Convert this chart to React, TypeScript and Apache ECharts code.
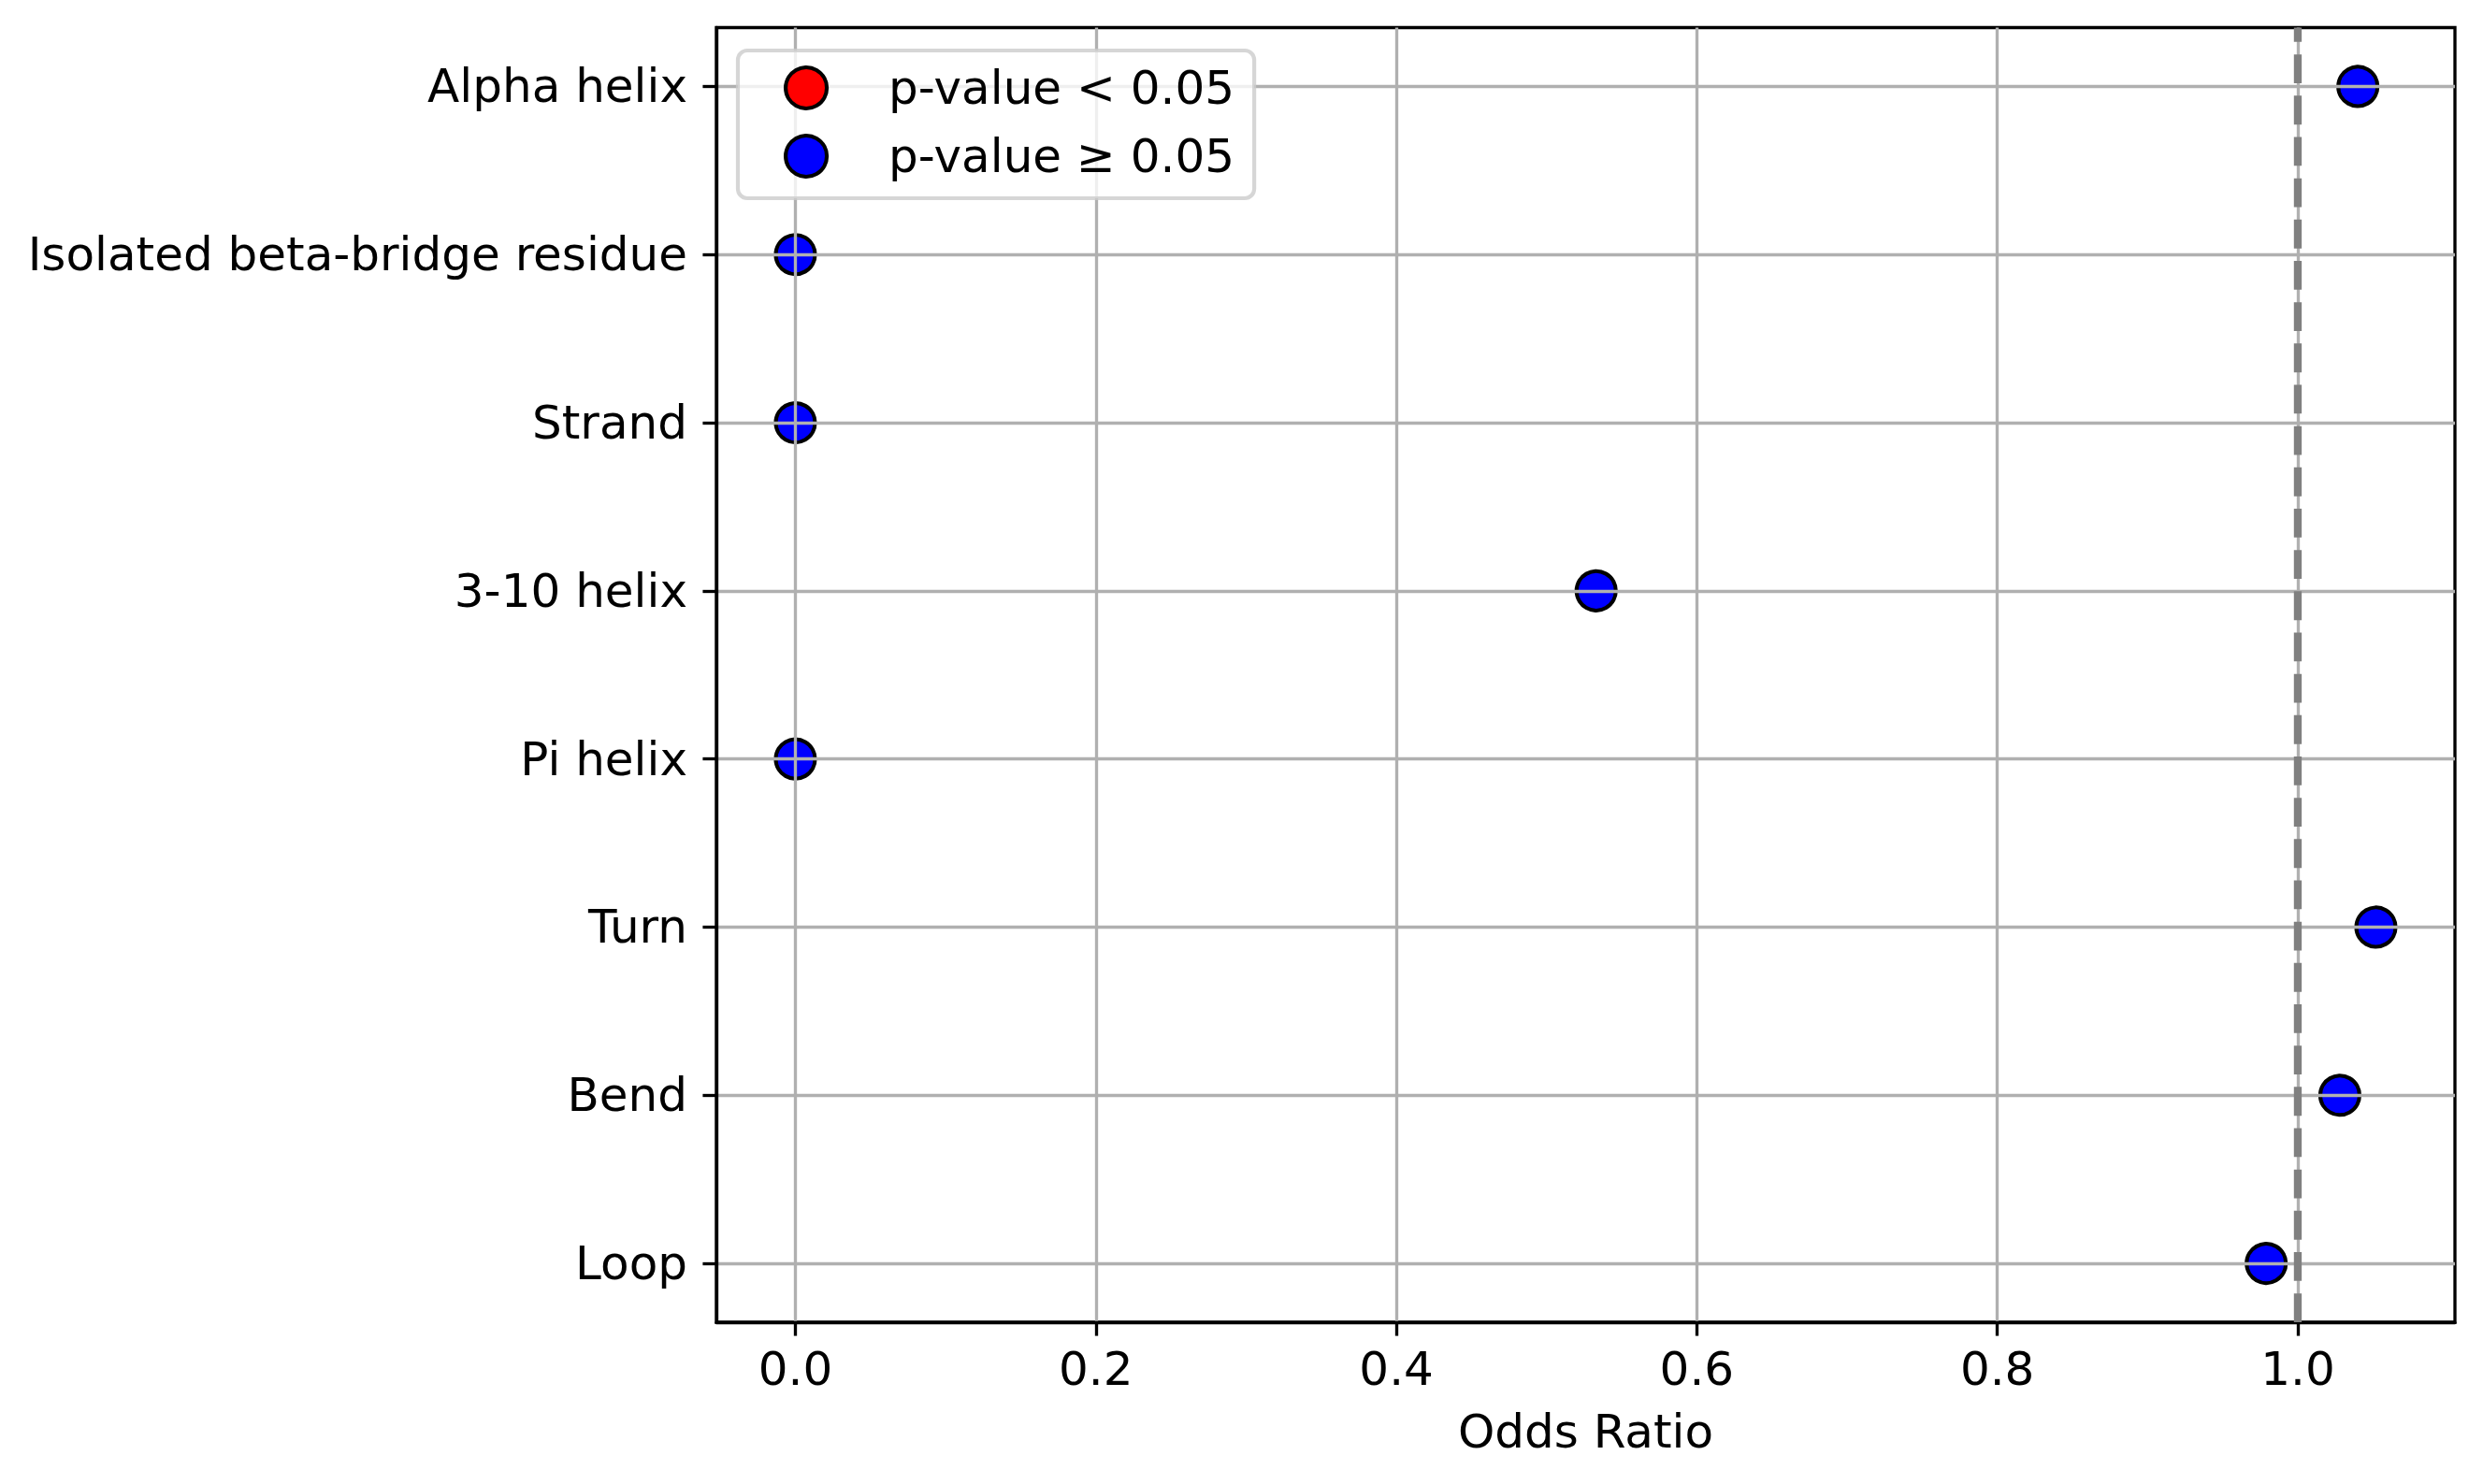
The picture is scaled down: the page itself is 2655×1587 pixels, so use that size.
import React, { useEffect, useRef } from "react";
import * as echarts from "echarts";

const categories = [
  "Alpha helix",
  "Isolated beta-bridge residue",
  "Strand",
  "3-10 helix",
  "Pi helix",
  "Turn",
  "Bend",
  "Loop",
];
const oddsRatios = [1.04, 0, 0, 0.533, 0, 1.052, 1.028, 0.979];
const pValueSignificant = [false, false, false, false, false, false, false, false];
const xTicks = [0, 0.2, 0.4, 0.6, 0.8, 1.0];
const referenceOdds = 1.0;
const seriesNames = ["p-value < 0.05", "p-value \u2265 0.05"];

const FONT = "DejaVu Sans";
const FS = 50;
const PT = 300 / 72;

export default function App() {
  const ref = useRef<HTMLDivElement>(null);
  useEffect(() => {
    if (!ref.current) return;
    const chart = echarts.init(ref.current, null, { renderer: "svg" });
    const dMin = Math.min(...oddsRatios);
    const dMax = Math.max(...oddsRatios);
    const pad = 0.05 * (dMax - dMin);
    const yMin = -0.35;
    const yMax = categories.length - 1 + 0.35;
    const yIdx = categories.map((_, i) => i);
    const sigData = oddsRatios
      .map((v, i) => [v, i, pValueSignificant[i]])
      .filter((d) => d[2])
      .map((d) => [d[0], d[1]]);
    const nsData = oddsRatios
      .map((v, i) => [v, i, pValueSignificant[i]])
      .filter((d) => !d[2])
      .map((d) => [d[0], d[1]]);
    const markerStyle = (color: string) => ({
      color,
      borderColor: "#000000",
      borderWidth: 1 * PT,
      opacity: 1,
    });
    chart.setOption({
      animation: false,
      backgroundColor: "#ffffff",
      textStyle: { fontFamily: FONT },
      grid: {
        left: 766,
        top: 29.5,
        width: 1859,
        height: 1384.5,
        show: true,
        borderColor: "#000000",
        borderWidth: 0.8 * PT,
        backgroundColor: "transparent",
      },
      legend: {
        show: true,
        orient: "vertical",
        left: 789,
        top: 54,
        data: seriesNames,
        icon: "circle",
        itemWidth: 44,
        itemHeight: 44,
        itemGap: 23,
        padding: [15, 21, 20, 49],
        backgroundColor: "rgba(255,255,255,0.8)",
        borderColor: "rgba(204,204,204,0.8)",
        borderWidth: 1 * PT,
        borderRadius: 10,
        itemStyle: { borderColor: "#000000", borderWidth: 1 * PT },
        textStyle: {
          fontFamily: FONT,
          fontSize: FS,
          color: "#000000",
          padding: [0, 0, 0, 61],
        },
        z: 10,
      },
      xAxis: {
        type: "value",
        min: dMin - pad,
        max: dMax + pad,
        z: 3,
        name: "Odds Ratio",
        nameLocation: "middle",
        nameGap: 92,
        nameTextStyle: { fontFamily: FONT, fontSize: FS, color: "#000000" },
        axisLine: { show: true, onZero: false, lineStyle: { color: "#000000", width: 0.8 * PT } },
        axisTick: {
          show: true,
          inside: false,
          length: 3.5 * PT,
          customValues: xTicks,
          lineStyle: { color: "#000000", width: 0.8 * PT },
        },
        axisLabel: {
          show: true,
          customValues: xTicks,
          margin: 25,
          fontFamily: FONT,
          fontSize: FS,
          color: "#000000",
          formatter: (v: number) => v.toFixed(1),
        },
        splitLine: { show: true, lineStyle: { color: "#b0b0b0", width: 0.8 * PT } },
      },
      yAxis: {
        type: "value",
        inverse: true,
        min: yMin,
        max: yMax,
        z: 3,
        axisLine: { show: true, onZero: false, lineStyle: { color: "#000000", width: 0.8 * PT } },
        axisTick: {
          show: true,
          inside: false,
          length: 3.5 * PT,
          customValues: yIdx,
          lineStyle: { color: "#000000", width: 0.8 * PT },
        },
        axisLabel: {
          show: true,
          customValues: yIdx,
          margin: 31,
          fontFamily: FONT,
          fontSize: FS,
          color: "#000000",
          formatter: (v: number) => categories[Math.round(v)] ?? "",
        },
        splitLine: { show: true, lineStyle: { color: "#b0b0b0", width: 0.8 * PT } },
      },
      series: [
        {
          name: "reference",
          type: "line",
          data: [
            [referenceOdds, yMax],
            [referenceOdds, yMin],
          ],
          symbol: "none",
          silent: true,
          lineStyle: { color: "#808080", width: 2 * PT, type: [7.4 * PT, 3.2 * PT], opacity: 1 },
          z: 5,
        },
        {
          name: seriesNames[0],
          type: "scatter",
          data: sigData,
          symbol: "circle",
          symbolSize: 42,
          itemStyle: markerStyle("#ff0000"),
          z: 2,
        },
        {
          name: seriesNames[1],
          type: "scatter",
          data: nsData,
          symbol: "circle",
          symbolSize: 42,
          itemStyle: markerStyle("#0000ff"),
          z: 2,
        },
      ],
    });
    return () => chart.dispose();
  }, []);
  return (
    <div
      ref={ref}
      style={{ position: "fixed", left: 0, top: 0, width: 2655, height: 1587 }}
    />
  );
}
